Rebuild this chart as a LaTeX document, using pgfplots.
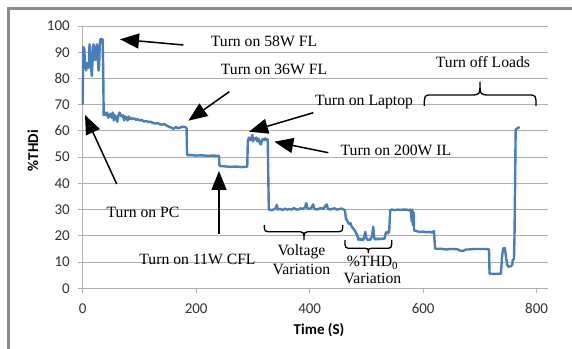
\documentclass[border=0pt]{standalone}
\usepackage{fontspec}
\setmainfont{Liberation Serif}
\newfontfamily\calibri{Carlito}
\usepackage{pgfplots}
\pgfplotsset{compat=1.18}
\usetikzlibrary{arrows.meta}

\definecolor{thdblue}{RGB}{74,126,187}
\definecolor{gridgray}{RGB}{175,175,175}
\definecolor{framegray}{RGB}{140,140,140}
\definecolor{ticktext}{RGB}{50,50,50}

\begin{document}
\begin{tikzpicture}[x=1pt,y=1pt]
\useasboundingbox (0,0) rectangle (572,348);
% outer chart frame
\draw[framegray, line width=2.7pt] (8.7,-2) -- (8.7,339.3) -- (574,339.3);

\begin{axis}[
  scale only axis,
  width=465.3pt, height=262.3pt,
  at={(82.7pt,59.7pt)}, anchor=south west,
  xmin=0, xmax=820, ymin=0, ymax=100,
  axis lines=left,
  axis line style={draw=gridgray, line width=0.9pt, -},
  xtick={0,200,...,800},
  ytick={0,10,...,100},
  ymajorgrids,
  grid style={gridgray, line width=0.9pt},
  tick align=outside,
  major tick length=5pt,
  tick style={gridgray, line width=0.9pt},
  tick label style={font=\calibri\fontsize{15}{15}\selectfont, text=ticktext},
  yticklabel style={xshift=-4.4pt},
  xticklabel style={yshift=-6.7pt},
  /pgf/number format/assume math mode=true,
  xlabel={Time (S)},
  ylabel={\%THDi},
  label style={font=\calibri\bfseries\fontsize{15}{15}\selectfont, text=black},
  xlabel style={at={(axis description cs:0.508,-0.159)}, anchor=center},
  ylabel style={at={(axis description cs:-0.107,0.525)}, anchor=center},
  clip=false,
]
\addplot[thdblue, line width=2.4pt, line join=round] coordinates {
(0,70) (1,92) (3,91) (4,84) (5,85) (6,83) (7,86) (8,84) (9,85) (10,84) (11,86)
(12,93) (13,92) (14,87) (15,84) (16,81) (17,85) (19,93) (20,92) (21,89) (22,87)
(23,88) (24,91) (25,93) (26,90) (27,86) (28,83) (29,85) (30,93) (31,95) (32,94)
(33,95) (34,94) (35,95) (36,85) (37,66)
(39,67) (41,66) (43,67) (45,65) (47,66) (49,66.5) (51,65) (53,67) (55,64) (57,66)
(59,65) (61,63.5) (63,66) (65,67) (67,66) (69,65.5) (71,66) (73,64) (75,65.5)
(77,65) (79,64) (81,65.5) (83,64.5) (85,65) (88,64.5) (91,64.8) (94,64.2) (97,64.5)
(100,64) (104,64.2) (108,63.6) (112,63.8) (116,63.4) (120,63.5) (124,63) (128,62.8)
(132,63) (136,62.5) (140,62.4) (144,62.6) (148,62) (152,61.6) (156,61.3) (160,60.8)
(164,61.5) (168,61) (172,61.3) (176,61.6) (180,61.5) (183,61.2)
(184,50.8) (190,50.8) (200,50.6) (210,50.7) (220,50.5) (230,50.6) (240,50.5)
(241,47) (242,46.6) (250,46.5) (260,46.3) (270,46.4) (280,46.2) (290,46.4)
(291,56) (293,57.5) (295,56.5) (297,57) (299,58.5) (300,56) (302,57.2) (304,56.8)
(306,57.5) (308,56) (310,57) (312,55.5) (314,54.8) (316,56.5) (318,57) (320,56.5)
(322,57.2) (324,56.5) (326,56.8)
(328,30) (332,29.8) (336,30) (340,30.5) (342,31.8) (344,30) (348,30.3) (352,29.8)
(356,30.4) (360,30) (364,30.2) (368,30) (372,30.6) (376,30.1) (380,30) (384,30.5)
(388,30.2) (392,31) (394,32.5) (396,30.5) (400,30.2) (404,31) (406,32) (408,30.4)
(412,30) (416,30.3) (420,30.6) (424,30.2) (428,31.5) (430,32) (432,30.4) (436,30)
(440,30.3) (444,30.5) (448,30) (452,30.2) (456,30.4) (460,30) (462,29.8)
(464,26.5) (466,25.8) (468,25) (470,24.5) (472,24.8) (474,23.5) (476,23) (478,22.5)
(480,21.8) (482,21) (484,20) (486,18.5) (488,19) (490,18.4) (492,18.8) (494,18.3)
(496,19.5) (498,21.5) (500,19) (502,18.5) (504,18.6) (506,18.4) (508,19) (510,20)
(512,23.5) (514,19) (516,18.6) (518,18.8) (520,19) (522,18.6) (524,19) (526,18.7)
(528,19) (530,18.8) (532,19) (534,21) (536,21.5) (538,21) (540,21.5)
(542,29.8) (545,30) (550,29.8) (555,30) (560,29.9) (565,30) (570,30) (575,29.8)
(578,30) (580,25.5) (581,30) (582,24) (583,29) (584,22) (586,22) (590,21.7)
(595,21.5) (600,21.6) (605,21.4) (610,21.5) (615,21.3) (619,21.8)
(621,15.2) (625,15) (630,15.1) (640,14.8) (650,15) (660,14.9) (665,14.4) (670,14.2)
(675,14.8) (680,14.8) (690,15) (700,15) (710,15) (716,14.8)
(717,5.6) (725,5.5) (737,5.6) (739,12) (741,15.2) (744,15.3) (746,12) (748,9)
(750,8.2) (755,8.5) (757,9) (758,11) (760,11) (761,20) (762,40) (763,60.5)
(766,61) (770,61.5)
};
\end{axis}

% annotations, laid out from the top-left corner
\begin{scope}[shift={(0,348)}, y=-1pt,
  lbl/.style={anchor=base, inner sep=0pt, font=\fontsize{15.7}{18}\selectfont},
  arr/.style={black, line width=1.5pt, -{Triangle[length=19pt,width=15pt]}},
  brc/.style={black, line width=1.3pt}]
\node[lbl] at (264,46.9) {Turn on 58W FL};
\node[lbl] at (274,74.2) {Turn on 36W FL};
\node[lbl] at (364,105.2) {Turn on Laptop};
\node[lbl] at (396,155.2) {Turn on 200W IL};
\node[lbl] at (483,67.9) {Turn off Loads};
\node[lbl] at (143,217.5) {Turn on PC};
\node[lbl] at (197.5,264.5) {Turn on 11W CFL};
\node[lbl] at (301.5,255.2) {Voltage};
\node[lbl] at (301.5,274.2) {Variation};
\node[lbl] at (372.5,266.9) {\%THD\textsubscript{0}};
\node[lbl] at (372.5,283.2) {Variation};

\draw[arr] (183.3,45) -- (120,39.3);
\draw[arr] (229.3,91.7) -- (188.3,120.7);
\draw[arr] (313.3,112.7) -- (249,131.7);
\draw[arr] (328.3,152.7) -- (274.3,141.7);
\draw[arr] (116.7,184) -- (85,115);
\draw[arr] (219,234) -- (219,171);

\draw[brc] (424.3,106) .. controls (424.3,95) .. (432,95) -- (470,95)
  .. controls (480,95) .. (480,81.7) .. controls (480,95) .. (490,95)
  -- (528,95) .. controls (536,95) .. (536,106);
\draw[brc] (264.3,225) .. controls (264.3,231.7) .. (272,231.7) -- (296,231.7)
  .. controls (304,231.7) .. (304,240) .. controls (304,231.7) .. (312,231.7)
  -- (335,231.7) .. controls (342.7,231.7) .. (342.7,225);
\draw[brc] (345,240) .. controls (345,248.3) .. (352,248.3) -- (362,248.3)
  .. controls (368.3,248.3) .. (368.3,253) .. controls (368.3,248.3) .. (375,248.3)
  -- (385,248.3) .. controls (391.7,248.3) .. (391.7,240);
\end{scope}
\end{tikzpicture}
\end{document}
